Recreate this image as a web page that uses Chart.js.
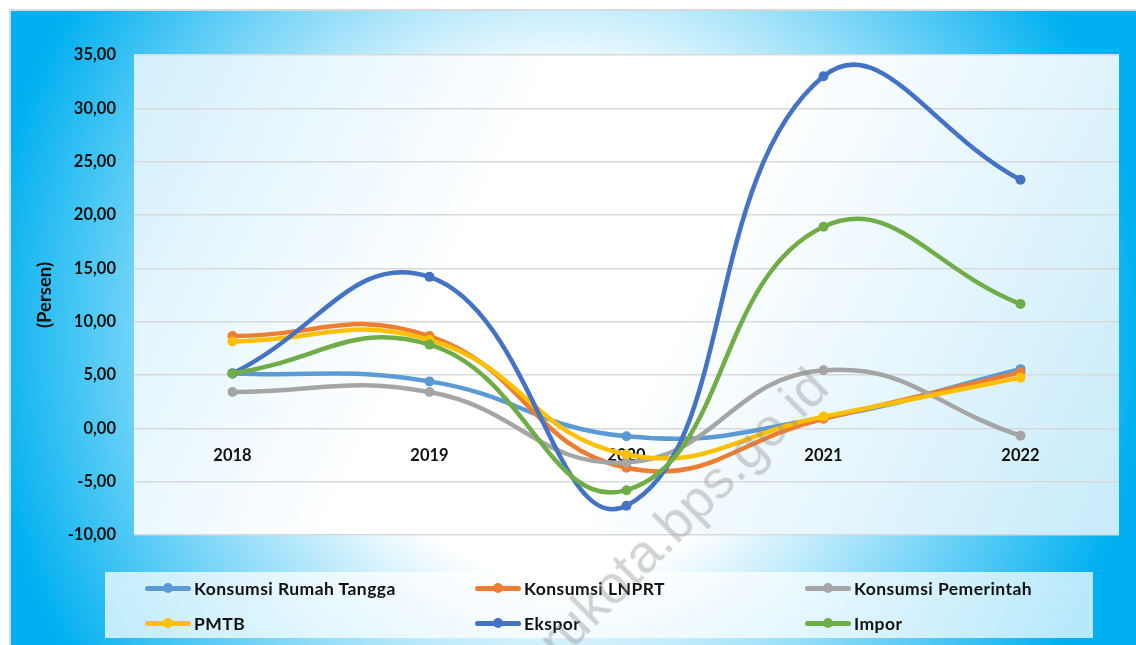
<!DOCTYPE html>
<html>
<head>
<meta charset="utf-8">
<script src="https://cdn.jsdelivr.net/npm/chart.js@4.4.1/dist/chart.umd.min.js"></script>
<style>
  html, body { margin: 0; padding: 0; background: #ffffff; }
  body { width: 1136px; height: 645px; position: relative; overflow: hidden; font-family: Lato, "Open Sans", sans-serif; }
  #frame {
    position: absolute; left: 9px; top: 9px; width: 1127px; height: 636px; box-sizing: border-box;
    border-left: 2px solid #d9d9d9; border-top: 2px solid #d9d9d9;
    background: radial-gradient(ellipse 582px 612px at 551px 321px, #ffffff 0%, #ffffff 40%, #00b0f0 100%);
  }
  #chartWrap { position: absolute; left: 0; top: 0; width: 1136px; height: 645px; }
  #legend {
    position: absolute; left: 105px; top: 572px; width: 988px; height: 66px;
    background: rgba(255,255,255,0.72);
  }
  .item { position: absolute; height: 20px; display: flex; align-items: center; font-weight: 700; font-size: 17.5px; letter-spacing: 0.45px; color: #111; white-space: nowrap; }
  .sym { position: relative; width: 46px; height: 20px; margin-right: 3px; }
  .sym .ln { position: absolute; left: 0; right: 0; top: 7.5px; height: 5px; border-radius: 3px; }
  .sym .dot { position: absolute; left: 18px; top: 5px; width: 10px; height: 10px; border-radius: 50%; }
  #wm {
    position: absolute; font-family: "Liberation Sans", Arial, sans-serif; font-size: 54px; color: rgba(140,140,140,0.38);
    white-space: nowrap; text-align: right; width: 800px; height: 54px; line-height: 54px;
    left: 18px; top: 350px; transform-origin: 800px 27px; transform: rotate(-45deg); pointer-events: none;
  }
</style>
</head>
<body>
<div id="frame"></div>
<div id="chartWrap"><canvas id="c" width="1136" height="645"></canvas></div>
<div id="legend"></div>
<div id="wm">pekanbarukota.bps.go.id</div>
<script>
// ---- data ----
const years = ['2018', '2019', '2020', '2021', '2022'];
const konsumsiRumahTangga = [5.15, 4.40, -0.75, 1.00, 5.55];
const konsumsiLNPRT = [8.65, 8.65, -3.70, 0.90, 5.25];
const konsumsiPemerintah = [3.40, 3.40, -3.20, 5.45, -0.70];
const pmtb = [8.15, 8.30, -2.45, 1.10, 4.75];
const ekspor = [5.15, 14.20, -7.25, 33.00, 23.30];
const impor = [5.15, 7.85, -5.80, 18.90, 11.65];
const seriesNames = ['Konsumsi Rumah Tangga', 'Konsumsi LNPRT', 'Konsumsi Pemerintah', 'PMTB', 'Ekspor', 'Impor'];
const yMin = -10, yMax = 35, yStep = 5;

const seriesValues = [konsumsiRumahTangga, konsumsiLNPRT, konsumsiPemerintah, pmtb, ekspor, impor];
const colors = ['#5B9BD5', '#ED7D31', '#A5A5A5', '#FFC000', '#4472C4', '#70AD47'];

const plotBg = {
  id: 'plotBg',
  beforeDraw(chart) {
    const {ctx, chartArea: a} = chart;
    const g = ctx.createLinearGradient(a.left, a.top, a.right, a.bottom);
    g.addColorStop(0, '#d3f0fc');
    g.addColorStop(0.35, '#ffffff');
    g.addColorStop(0.55, '#ffffff');
    g.addColorStop(1, '#c6ebfa');
    ctx.save();
    ctx.fillStyle = g;
    ctx.fillRect(a.left, a.top, a.right - a.left, a.bottom - a.top);
    ctx.restore();
  }
};

const datasets = seriesNames.map((name, i) => ({
  label: name,
  data: seriesValues[i],
  borderColor: colors[i],
  backgroundColor: colors[i],
  borderWidth: 4.5,
  pointRadius: 5,
  pointHoverRadius: 5,
  pointBorderWidth: 0,
  tension: 0.45,
  capBezierPoints: false,
  fill: false,
  order: seriesNames.length - i
}));

new Chart(document.getElementById('c'), {
  type: 'line',
  data: { labels: years, datasets },
  plugins: [plotBg],
  options: {
    responsive: false,
    animation: false,
    elements: { line: { capBezierPoints: false } },
    layout: { padding: { left: 0, top: 55, right: 17, bottom: 110 } },
    plugins: { legend: { display: false }, tooltip: { enabled: false } },
    scales: {
      x: {
        type: 'category',
        offset: true,
        position: { y: 0 },
        afterFit(s) { s.height = 0; },
        grid: { display: false, drawTicks: false },
        border: { display: false },
        ticks: { color: '#111', padding: 17, font: { family: 'Lato', weight: 'bold', size: 16.5 } }
      },
      y: {
        min: yMin, max: yMax,
        afterFit(s) { s.width = 134; },
        grid: { color: '#d9d9d9', lineWidth: 1.5, drawTicks: false },
        border: { display: false },
        ticks: {
          stepSize: yStep, color: '#111', padding: 18,
          font: { family: 'Lato', weight: 'bold', size: 16.5 },
          callback: v => v.toFixed(2).replace('.', ',')
        },
        title: {
          display: true, text: '(Persen)', color: '#111',
          font: { family: 'Lato', weight: 'bold', size: 18.5 },
          padding: { top: 34, bottom: 0 }
        }
      }
    }
  }
});

// ---- legend (HTML, built from the series arrays) ----
const legend = document.getElementById('legend');
const colX = [40, 370, 700];
const rowY = [6, 41];
seriesNames.forEach((name, i) => {
  const it = document.createElement('div');
  it.className = 'item';
  it.style.left = colX[i % 3] + 'px';
  it.style.top = rowY[Math.floor(i / 3)] + 'px';
  it.innerHTML = '<span class="sym"><span class="ln" style="background:' + colors[i] + '"></span><span class="dot" style="background:' + colors[i] + '"></span></span>';
  const t = document.createElement('span');
  t.textContent = name;
  it.appendChild(t);
  legend.appendChild(it);
});
</script>
</body>
</html>
